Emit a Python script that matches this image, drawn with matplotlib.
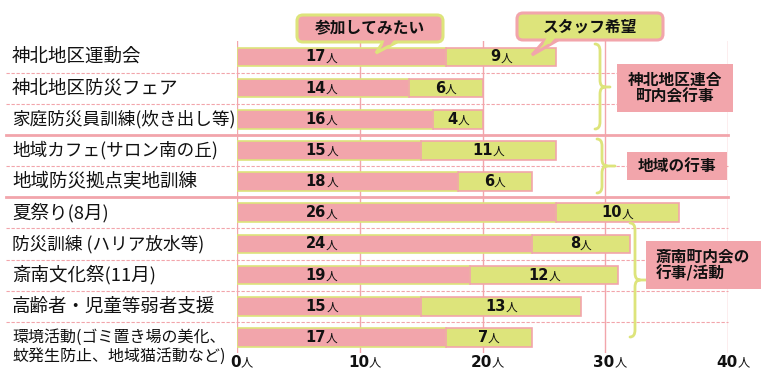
import matplotlib
matplotlib.use("Agg")
import numpy as np
import matplotlib.pyplot as plt
from matplotlib.patches import FancyBboxPatch, Polygon, PathPatch
from matplotlib.path import Path
from matplotlib.offsetbox import TextArea, HPacker, AnnotationBbox

CJK = "Noto Sans CJK JP"
plt.rcParams['font.family'] = [CJK, 'DejaVu Sans']

# data
events = [
    "神北地区運動会",
    "神北地区防災フェア",
    "家庭防災員訓練(炊き出し等)",
    "地域カフェ(サロン南の丘)",
    "地域防災拠点実地訓練",
    "夏祭り(8月)",
    "防災訓練 (ハリア放水等)",
    "斎南文化祭(11月)",
    "高齢者・児童等弱者支援",
    "環境活動(ゴミ置き場の美化、\n蚊発生防止、地域猫活動など)",
]
join_counts = [17, 14, 16, 15, 18, 26, 24, 19, 15, 17]
staff_counts = [9, 6, 4, 11, 6, 10, 8, 12, 13, 7]
x_ticks = [0, 10, 20, 30, 40]
unit = "人"
series_names = ["参加してみたい", "スタッフ希望"]
group_names = ["神北地区連合\n町内会行事", "地域の行事", "斎南町内会の\n行事/活動"]
group_breaks = [2.5, 4.5]   # solid lines between groups

PINK = "#f2a5ab"
GREEN = "#dde47b"
TXT = "#111111"

W, H = 779, 390
fig = plt.figure(figsize=(W / 100, H / 100), dpi=100)
ax = fig.add_axes([237 / W, 1 - 353 / H, 491 / W, 311.6 / H])

n = len(events)
y = np.arange(n)
ax.set_xlim(0, 40)
ax.set_ylim(n - 0.5, -0.5)
for s in ax.spines.values():
    s.set_visible(False)
ax.set_xticks([])
ax.set_yticks([])

# vertical grid
for t in x_ticks:
    ax.axvline(t, color=PINK, lw=1.0, zorder=0.5)

# row separators (dashed) and group separators (solid)
for i in range(n - 1):
    yb = i + 0.5
    if yb in group_breaks:
        ax.axhline(yb, xmin=-0.470, xmax=1, color=PINK, lw=2.0, clip_on=False, zorder=0.6)
    else:
        ax.axhline(yb, xmin=-0.470, xmax=1, color=PINK, lw=0.8, ls=(0, (3, 1.5)),
                   clip_on=False, zorder=0.6)

# bars
ax.barh(y, join_counts, height=0.6, color=PINK, edgecolor=GREEN, lw=1.2, zorder=2)
ax.barh(y, staff_counts, left=join_counts, height=0.6, color=GREEN, edgecolor=PINK,
        lw=1.2, zorder=2)


def num_label(num, size):
    return HPacker(children=[
        TextArea(str(num), textprops=dict(fontsize=size, fontweight='bold',
                                          family='DejaVu Sans', color=TXT)),
        TextArea(unit, textprops=dict(fontsize=size * 0.8, family=CJK, color=TXT)),
    ], align='baseline', pad=0, sep=0)


# value labels
for i in range(n):
    ab = AnnotationBbox(num_label(join_counts[i], 10.5), (6.9, i), frameon=False,
                        box_alignment=(0.5, 0.5), pad=0, annotation_clip=False, zorder=4)
    ax.add_artist(ab)
    ab = AnnotationBbox(num_label(staff_counts[i], 10.5),
                        (join_counts[i] + staff_counts[i] / 2, i), frameon=False,
                        box_alignment=(0.5, 0.5), pad=0, annotation_clip=False, zorder=4)
    ax.add_artist(ab)

# x tick labels
for t in x_ticks:
    ab = AnnotationBbox(num_label(t, 11), (t, -0.029), xycoords=('data', 'axes fraction'),
                        xybox=(3.5, 0), boxcoords='offset points', frameon=False,
                        box_alignment=(0.5, 0.5), pad=0, annotation_clip=False)
    ax.add_artist(ab)

# category labels
yt = ax.get_yaxis_transform()
for i, lab in enumerate(events):
    if "\n" in lab:
        ax.text(-0.458, i + 0.31, lab, transform=yt, ha='left', va='center',
                fontsize=11.5, color=TXT, linespacing=1.15, clip_on=False)
    else:
        fs = 12.7 if len(lab) > 12 else 13.3
        ax.text(-0.458, i, lab, transform=yt, ha='left', va='center',
                fontsize=fs, color=TXT, clip_on=False)

# overlay in pixel coordinates for callouts, braces and group boxes
ov = fig.add_axes([0, 0, 1, 1], zorder=5)
ov.set_xlim(0, W)
ov.set_ylim(H, 0)
ov.axis('off')
ov.patch.set_alpha(0)


def callout(x0, y0, x1, y1, base, tip, fc, ec, text):
    bl = np.array([base[0], y1])
    br = np.array([base[1], y1])
    tp = np.array(tip)
    ov.add_patch(Polygon([bl, tp, br], closed=True, fc=fc, ec=ec, lw=2.2, zorder=1))
    ov.add_patch(FancyBboxPatch((x0, y0), x1 - x0, y1 - y0,
                                boxstyle="round,pad=0,rounding_size=6",
                                fc=fc, ec=ec, lw=2.2, zorder=2))
    t = 0.25
    L = bl + t * (tp - bl) + np.array([1.5, 0])
    R = br + t * (tp - br) - np.array([1.5, 0])
    ov.add_patch(Polygon([bl + np.array([2, -3]), br + np.array([-2, -3]), R, L],
                         closed=True, fc=fc, ec='none', zorder=3))
    ov.text((x0 + x1) / 2, (y0 + y1) / 2, text, ha='center', va='center',
            fontsize=11.3, fontweight='bold', color=TXT, zorder=4)


callout(297, 15, 443, 42, (383, 397), (376, 53), PINK, GREEN, series_names[0])
callout(517, 13, 663, 40, (545, 558), (532, 55), GREEN, PINK, series_names[1])


def brace(x0, ytop, ybot, ymid, xtip, w=5, r=7):
    x1 = x0 + w
    verts = [(x0, ytop), (x1, ytop), (x1, ytop + r), (x1, ymid - r), (x1, ymid),
             (x1 + w, ymid), (xtip, ymid),
             (x1 + w, ymid), (x1, ymid), (x1, ymid + r), (x1, ybot - r), (x1, ybot),
             (x0, ybot)]
    codes = [Path.MOVETO, Path.CURVE3, Path.CURVE3, Path.LINETO, Path.CURVE3, Path.CURVE3,
             Path.LINETO, Path.MOVETO, Path.CURVE3, Path.CURVE3, Path.LINETO, Path.CURVE3,
             Path.CURVE3]
    ov.add_patch(PathPatch(Path(verts, codes), fc='none', ec=GREEN, lw=2.0,
                           capstyle='round', zorder=2))


brace(595, 44, 129, 87, 610)
brace(597, 139, 193, 166, 615)
brace(630, 223, 337, 280, 648)


def group_box(x0, y0, x1, y1, text, left=None):
    ov.add_patch(FancyBboxPatch((x0, y0), x1 - x0, y1 - y0, boxstyle="square,pad=0",
                                fc=PINK, ec='none', zorder=2))
    if left is None:
        ov.text((x0 + x1) / 2, (y0 + y1) / 2, text, ha='center', va='center',
                fontsize=11.3, fontweight='bold', color=TXT, linespacing=1.05, zorder=3)
    else:
        ov.text(left, (y0 + y1) / 2, text, ha='left', va='center', multialignment='left',
                fontsize=11.3, fontweight='bold', color=TXT, linespacing=1.05, zorder=3)


group_box(617, 64, 733, 112, group_names[0])
group_box(627, 152, 727, 180, group_names[1])
group_box(646, 241, 761, 289, group_names[2], left=656)

fig.savefig("out.png", dpi=100)
